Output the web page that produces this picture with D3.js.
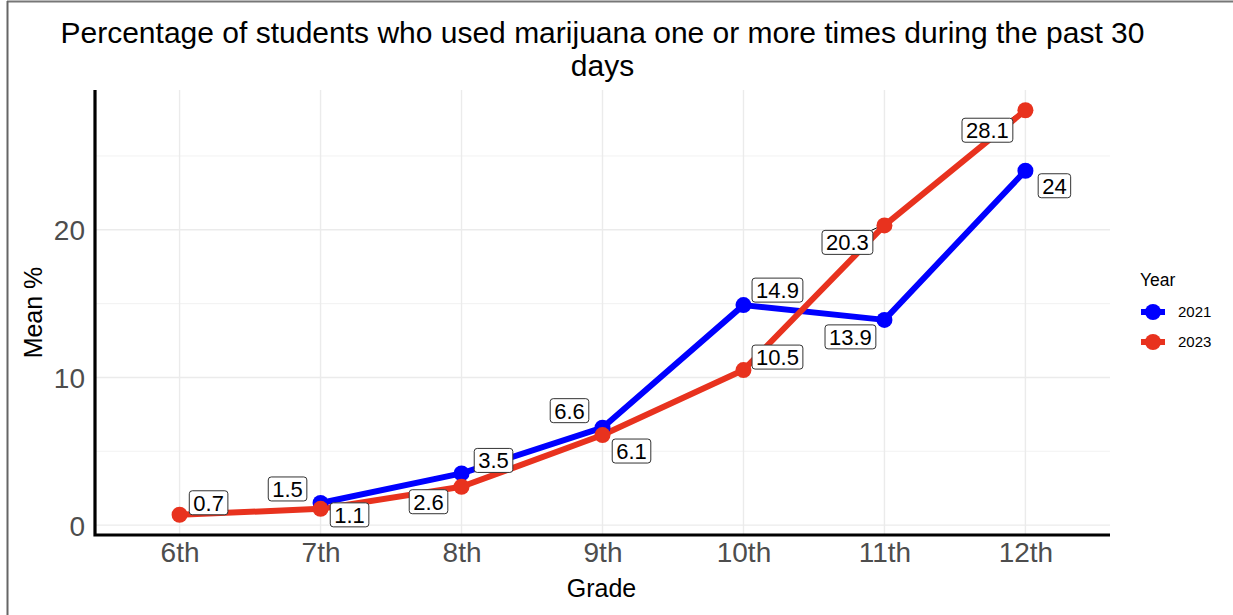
<!DOCTYPE html>
<html>
<head>
<meta charset="utf-8">
<script src="https://cdn.jsdelivr.net/npm/d3@7"></script>
<style>
  html, body { margin: 0; padding: 0; background: #fff; }
  svg { display: block; font-family: "Liberation Sans", Arial, sans-serif; }
</style>
</head>
<body>
<svg id="chart" width="1233" height="615"></svg>
<script>
// ---- data ----
const grades = ["6th", "7th", "8th", "9th", "10th", "11th", "12th"];
const years = ["2021", "2023"];
const grades2021 = ["7th", "8th", "9th", "10th", "11th", "12th"];
const values2021 = [1.5, 3.5, 6.6, 14.9, 13.9, 24];
const grades2023 = ["6th", "7th", "8th", "9th", "10th", "11th", "12th"];
const values2023 = [0.7, 1.1, 2.6, 6.1, 10.5, 20.3, 28.1];
const yTicks = [0, 10, 20];
const yMinor = [5, 15, 25];
const titleLines = ["Percentage of students who used marijuana one or more times during the past 30", "days"];

// label offsets (pixels) imitating the repelled labels
const labelOffsets = {
  "2021": [[-33, -14], [32, -13], [-33, -17], [34, -15], [-34, 17], [29, 15]],
  "2023": [[29, -12], [29, 6], [-33, 15], [29, 16], [34, -13], [-37, 17], [-38, 20]]
};

const colors = { "2021": "#0000ff", "2023": "#e8321e" };

const series = [
  { year: "2021", pts: grades2021.map((g, i) => ({ g, v: values2021[i], off: labelOffsets["2021"][i] })) },
  { year: "2023", pts: grades2023.map((g, i) => ({ g, v: values2023[i], off: labelOffsets["2023"][i] })) }
];

// ---- layout ----
const svg = d3.select("#chart");
const panel = { left: 95, right: 1110, top: 90, bottom: 535 };

const x = d3.scalePoint().domain(grades).range([panel.left, panel.right]).padding(0.6);
const allVals = values2021.concat(values2023);
const ext = d3.extent(allVals);
const pad = (ext[1] - ext[0]) * 0.05;
const y = d3.scaleLinear().domain([ext[0] - pad, ext[1] + pad]).range([panel.bottom, panel.top]);

// frame of screenshot
svg.append("line").attr("x1", 7).attr("x2", 1233).attr("y1", 1.5).attr("y2", 1.5).attr("stroke", "#777").attr("stroke-width", 2);
svg.append("line").attr("x1", 7.5).attr("x2", 7.5).attr("y1", 1).attr("y2", 615).attr("stroke", "#666").attr("stroke-width", 2);

// grid
const grid = svg.append("g");
grid.selectAll(".ymin").data(yMinor).join("line")
  .attr("x1", panel.left).attr("x2", panel.right)
  .attr("y1", d => y(d)).attr("y2", d => y(d))
  .attr("stroke", "#f2f2f2").attr("stroke-width", 1);
grid.selectAll(".ymaj").data(yTicks).join("line")
  .attr("x1", panel.left).attr("x2", panel.right)
  .attr("y1", d => y(d)).attr("y2", d => y(d))
  .attr("stroke", "#ebebeb").attr("stroke-width", 1.4);
grid.selectAll(".xmaj").data(grades).join("line")
  .attr("x1", d => x(d)).attr("x2", d => x(d))
  .attr("y1", panel.top).attr("y2", panel.bottom)
  .attr("stroke", "#ebebeb").attr("stroke-width", 1.4);

// axes
const yAxis = svg.append("g").attr("transform", `translate(${panel.left},0)`)
  .call(d3.axisLeft(y).tickValues(yTicks).tickSize(0).tickPadding(10));
yAxis.select(".domain").remove();
yAxis.selectAll("text").attr("font-size", 28).attr("fill", "#4d4d4d").attr("dy", "0.36em");

const xAxis = svg.append("g").attr("transform", `translate(0,${panel.bottom})`)
  .call(d3.axisBottom(x).tickSize(0).tickPadding(7));
xAxis.select(".domain").remove();
xAxis.selectAll("text").attr("font-size", 28).attr("fill", "#4d4d4d");

svg.append("path")
  .attr("d", `M${panel.left},${panel.top} L${panel.left},${panel.bottom} L${panel.right},${panel.bottom}`)
  .attr("fill", "none").attr("stroke", "#000").attr("stroke-width", 3.2);

// leader segments (drawn beneath the lines)
const gSeg = svg.append("g");
series.forEach(s => {
  s.pts.forEach(d => {
    const px = x(d.g), py = y(d.v);
    const dist = Math.hypot(d.off[0], d.off[1]);
    if (dist > 40) {
      const sx = px + d.off[0] + Math.sign(-d.off[0]) * 24, sy = py + d.off[1] + Math.sign(-d.off[1]) * 12;
      gSeg.append("line").attr("x1", sx).attr("y1", sy)
        .attr("x2", px - Math.sign(d.off[0]) * 6).attr("y2", py - Math.sign(d.off[1]) * 4)
        .attr("stroke", "#000").attr("stroke-width", 1);
    }
  });
});

// lines
const line = d3.line().x(d => x(d.g)).y(d => y(d.v));
const gSeries = svg.append("g");
series.forEach(s => {
  gSeries.append("path").datum(s.pts)
    .attr("d", line).attr("fill", "none")
    .attr("stroke", colors[s.year]).attr("stroke-width", 6).attr("stroke-linejoin", "round");
});

series.forEach(s => {
  gSeries.selectAll(null).data(s.pts).join("circle")
    .attr("cx", d => x(d.g)).attr("cy", d => y(d.v)).attr("r", 8)
    .attr("fill", colors[s.year]);
});

// labels
const gLab = svg.append("g");
series.forEach(s => {
  s.pts.forEach(d => {
    const cx = x(d.g) + d.off[0], cy = y(d.v) + d.off[1];
    const g = gLab.append("g");
    const t = g.append("text").attr("x", cx).attr("y", cy).attr("text-anchor", "middle")
      .attr("dy", "0.36em").attr("font-size", 22).attr("fill", "#000").text(d.v);
    const bb = t.node().getBBox();
    g.insert("rect", "text")
      .attr("x", bb.x - 4).attr("y", cy - 12).attr("width", bb.width + 8).attr("height", 24)
      .attr("rx", 3).attr("fill", "#fff").attr("stroke", "#333").attr("stroke-width", 1);
  });
});

// title
svg.append("text").attr("x", (panel.left + panel.right) / 2).attr("y", 0)
  .attr("text-anchor", "middle").attr("font-size", 30).attr("fill", "#000")
  .selectAll("tspan").data(titleLines).join("tspan")
  .attr("x", (panel.left + panel.right) / 2).attr("y", (d, i) => 43 + i * 33).text(d => d);

// axis titles
svg.append("text").attr("x", (panel.left + panel.right) / 2 - 1).attr("y", 597)
  .attr("text-anchor", "middle").attr("font-size", 25).attr("fill", "#000").text("Grade");
svg.append("text").attr("transform", `translate(42,${(panel.top + panel.bottom) / 2}) rotate(-90)`)
  .attr("text-anchor", "middle").attr("font-size", 25).attr("fill", "#000").text("Mean %");

// legend
const leg = svg.append("g");
leg.append("text").attr("x", 1140).attr("y", 286).attr("font-size", 17.5).attr("fill", "#000").text("Year");
years.forEach((yr, i) => {
  const cy = 312 + i * 30;
  leg.append("line").attr("x1", 1141).attr("x2", 1165).attr("y1", cy).attr("y2", cy)
    .attr("stroke", colors[yr]).attr("stroke-width", 6);
  leg.append("circle").attr("cx", 1153).attr("cy", cy).attr("r", 8).attr("fill", colors[yr]);
  leg.append("text").attr("x", 1178).attr("y", cy).attr("dy", "0.36em")
    .attr("font-size", 15).attr("fill", "#000").text(yr);
});
</script>
</body>
</html>
